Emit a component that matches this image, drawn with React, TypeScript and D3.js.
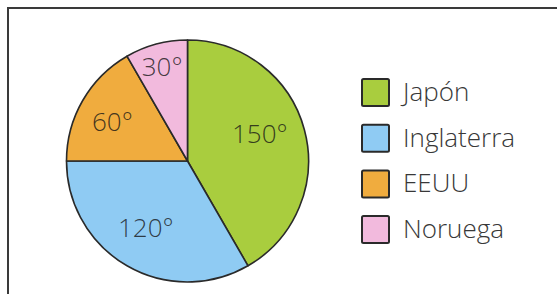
import { useEffect, useRef } from 'react';
import * as d3 from 'd3';

const countries = ['Japón', 'Inglaterra', 'EEUU', 'Noruega'];
const degrees = [150, 120, 60, 30];
const colors = ['#a9cd3e', '#8fcbf3', '#f0ac3e', '#f2badd'];

// label placement: fraction of the radius and a small angle nudge (degrees)
const labelRadius = [0.64, 0.65, 0.7, 0.81];
const labelNudge = [-6, 2, -2.4, 0];

export default function App() {
  const ref = useRef<SVGSVGElement>(null);

  useEffect(() => {
    if (!ref.current) return;
    const svg = d3.select(ref.current);
    svg.selectAll('*').remove();

    const width = 557;
    const height = 294;
    const radius = 121;
    const cx = 187.5;
    const cy = 161;

    svg.attr('width', width).attr('height', height);

    // frame (only top and left edges visible in the crop)
    svg.append('rect')
      .attr('x', 8).attr('y', 8)
      .attr('width', width + 20).attr('height', height + 20)
      .attr('fill', '#fff')
      .attr('stroke', '#3a3a3a')
      .attr('stroke-width', 2);

    const entries = countries.map((c, i) => ({ name: c, value: degrees[i], color: colors[i], i }));
    const pie = d3.pie<typeof entries[number]>().value(d => d.value).sort(null);
    const arc = d3.arc<d3.PieArcDatum<typeof entries[number]>>().innerRadius(0).outerRadius(radius);

    const g = svg.append('g').attr('transform', `translate(${cx},${cy})`);
    const arcs = pie(entries);

    g.selectAll('path').data(arcs).enter().append('path')
      .attr('d', arc)
      .attr('fill', d => d.data.color)
      .attr('stroke', '#2a2a2a')
      .attr('stroke-width', 1.6)
      .attr('stroke-linejoin', 'round');

    g.selectAll('text.lbl').data(arcs).enter().append('text')
      .attr('class', 'lbl')
      .attr('transform', d => {
        const r = radius * labelRadius[d.data.i];
        const a = (d.startAngle + d.endAngle) / 2 + (labelNudge[d.data.i] * Math.PI) / 180;
        return `translate(${r * Math.sin(a)},${-r * Math.cos(a)})`;
      })
      .attr('text-anchor', 'middle')
      .attr('dy', '0.36em')
      .attr('font-family', '"Open Sans", sans-serif')
      .attr('font-weight', 360)
      .attr('font-size', '26px')
      .attr('fill', '#151515')
      .attr('fill-opacity', 0.8)
      .text(d => `${d.data.value}°`);

    // legend
    const legend = svg.append('g').attr('transform', 'translate(362,79)');
    const rows = legend.selectAll('g').data(entries).enter().append('g')
      .attr('transform', (_, i) => `translate(0,${i * 45.7})`);
    rows.append('rect')
      .attr('x', 0).attr('y', 0)
      .attr('width', 27).attr('height', 27)
      .attr('rx', 1.5)
      .attr('fill', d => d.color)
      .attr('stroke', '#2a2a2a')
      .attr('stroke-width', 2);
    rows.append('text')
      .attr('x', 41).attr('y', 22)
      .attr('font-family', '"Open Sans", sans-serif')
      .attr('font-weight', 360)
      .attr('font-size', '26px')
      .attr('fill', '#383838')
      .text(d => d.name);
  }, []);

  return (
    <div style={{ position: 'absolute', left: 0, top: 0 }}>
      <svg ref={ref} style={{ display: 'block' }} />
    </div>
  );
}
